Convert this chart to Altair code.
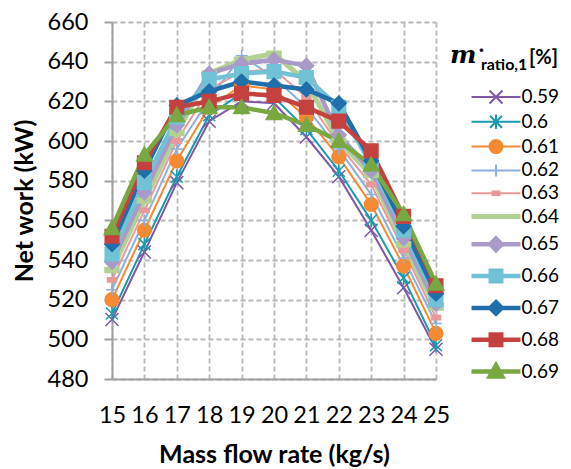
import altair as alt
import pandas as pd

# ---------------- data ----------------
flow = [15, 16, 17, 18, 19, 20, 21, 22, 23, 24, 25]
ratios = ["0.59", "0.6", "0.61", "0.62", "0.63", "0.64",
          "0.65", "0.66", "0.67", "0.68", "0.69"]

w059 = [510, 544, 579, 610, 620, 619, 602, 582, 555, 526, 495]
w060 = [513, 548, 582, 613, 624, 622, 606, 585, 560, 531, 497]
w061 = [520, 555, 590, 617, 628, 626, 612, 592, 568, 537, 503]
w062 = [525, 560, 596, 621, 643, 632, 617, 596, 573, 541, 508]
w063 = [530, 565, 600, 626, 635, 636, 622, 598, 578, 545, 511]
w064 = [535, 570, 604, 634, 641, 644, 630, 600, 583, 548, 516]
w065 = [539, 574, 608, 634, 639, 641, 638, 603, 585, 551, 518]
w066 = [543, 579, 612, 631, 634, 635, 632, 617, 588, 555, 520]
w067 = [548, 585, 618, 625, 630, 628, 626, 619, 590, 557, 523]
w068 = [552, 589, 617, 620, 624, 623, 617, 610, 595, 562, 527]
w069 = [556, 593, 613, 617, 617, 614, 608, 600, 588, 563, 528]
series_values = [w059, w060, w061, w062, w063, w064,
                 w065, w066, w067, w068, w069]

y_ticks = [480, 500, 520, 540, 560, 580, 600, 620, 640, 660]

# ---------------- styles ----------------
colors = ["#7E57A5", "#1A9BB0", "#F58A32", "#8EAFDA", "#E89A9A", "#B3D192",
          "#A99AC8", "#71C2D6", "#1E6FAA", "#C4413F", "#79A843"]
line_widths = [2, 2, 2, 2, 2, 5, 4.5, 4.5, 4.5, 4.5, 4.5]

U = 9.0  # px per path unit (symbol size 324 -> sqrt 18 -> scale 9)


def f(v):
    return f"{v / U:.3f}"


def p_x(h):
    return f"M{f(-h)},{f(-h)}L{f(h)},{f(h)}M{f(-h)},{f(h)}L{f(h)},{f(-h)}"


def p_star(h):
    return p_x(h) + f"M0,{f(-h * 1.2)}L0,{f(h * 1.2)}"


def p_circle(h):
    return (f"M{f(-h)},0A{f(h)},{f(h)} 0 1,0 {f(h)},0"
            f"A{f(h)},{f(h)} 0 1,0 {f(-h)},0Z")


def p_plus(h):
    return f"M{f(-h)},0L{f(h)},0M0,{f(-h)}L0,{f(h)}"


def p_rect(w, hh):
    return f"M{f(-w)},{f(-hh)}L{f(w)},{f(-hh)}L{f(w)},{f(hh)}L{f(-w)},{f(hh)}Z"


def p_diamond(h):
    return f"M0,{f(-h)}L{f(h)},0L0,{f(h)}L{f(-h)},0Z"


def p_square(h):
    return p_rect(h, h)


def p_triangle(h):
    return f"M0,{f(-h)}L{f(h)},{f(h * 0.8)}L{f(-h)},{f(h * 0.8)}Z"


def markers(shrink, for_legend=False):
    return [
        p_x(6.5),
        p_star(6.0),
        p_circle(7.5 - shrink[2]),
        p_plus(6.0),
        p_rect(4.5, 2.2) if not for_legend else p_rect(3.5, 1.8),
        p_rect(7.0, 2.5) if not for_legend else "",
        p_diamond(8.0 - shrink[6]),
        p_square(7.5 - shrink[7]),
        p_diamond(8.0 - shrink[8]),
        p_square(7.5 - shrink[9]),
        p_triangle(8.5 - shrink[10]),
    ]


chart_markers = markers([0.7] * 11)
half_line = 24.5
legend_paths = [f"M{f(-half_line)},0L{f(half_line)},0" + m
                for m in markers([w / 2 for w in line_widths], for_legend=True)]

marker_of = dict(zip(ratios, chart_markers))

rows = []
for i, (r, vals) in enumerate(zip(ratios, series_values)):
    for x, v in zip(flow, vals):
        rows.append({"flow": x, "ratio": r, "work": v, "k": i,
                     "marker": marker_of[r]})
df = pd.DataFrame(rows)

FONT = "Lato"

x_enc = alt.X("flow:Q", scale=alt.Scale(domain=[15, 25], nice=False),
              axis=alt.Axis(values=flow, title="Mass flow rate (kg/s)",
                            format="d", labelOverlap=False, labelFlush=False))
y_enc = alt.Y("work:Q", scale=alt.Scale(domain=[480, 660], nice=False),
              axis=alt.Axis(values=y_ticks, title="Net work (kW)",
                            labelFlush=False, labelOverlap=False))


def stroke_scale():
    return alt.Scale(domain=ratios, range=colors)


def sw_scale():
    return alt.Scale(type="ordinal", domain=ratios, range=line_widths)


lines = alt.Chart(df).mark_line().encode(
    x=x_enc, y=y_enc,
    stroke=alt.Stroke("ratio:N", scale=stroke_scale(), legend=None),
    strokeWidth=alt.StrokeWidth("ratio:N", scale=sw_scale(), legend=None),
    order=alt.Order("flow:Q"),
    detail="k:O",
)

points = alt.Chart(df).mark_point(opacity=1, size=324, strokeWidth=1.5).encode(
    x=x_enc, y=y_enc,
    stroke=alt.Stroke("ratio:N", scale=stroke_scale(), legend=None),
    fill=alt.Fill("ratio:N", scale=stroke_scale(), legend=None),
    shape=alt.Shape("marker:N", scale=None),
    order=alt.Order("k:Q"),
)


def leg():
    return alt.Legend(title=None, orient="none", legendX=372.5, legendY=65,
                      symbolSize=324, labelFont=FONT, labelFontSize=19,
                      labelColor="#000000", labelOffset=14, rowPadding=1.8,
                      padding=0, symbolOffset=0, labelLimit=200)


legend_layer = alt.Chart(df).mark_point(opacity=1).encode(
    x=x_enc, y=y_enc,
    stroke=alt.Stroke("ratio:N", scale=stroke_scale(), legend=leg()),
    fill=alt.Fill("ratio:N", scale=stroke_scale(), legend=leg()),
    shape=alt.Shape("ratio:N", scale=alt.Scale(domain=ratios, range=legend_paths),
                    legend=leg()),
    strokeWidth=alt.StrokeWidth("ratio:N", scale=sw_scale(), legend=leg()),
).transform_filter("false")

one = pd.DataFrame({"a": [0]})
t_m = alt.Chart(one).mark_text(align="left", baseline="alphabetic",
                               font="DejaVu Serif", fontStyle="italic",
                               fontWeight="bold", fontSize=25).encode(
    x=alt.value(338), y=alt.value(41), text=alt.value("m"))
t_dot = alt.Chart(one).mark_text(align="left", baseline="alphabetic",
                                 font=FONT, fontWeight="bold", fontSize=22).encode(
    x=alt.value(365), y=alt.value(44), text=alt.value("˙"))
t_sub = alt.Chart(one).mark_text(align="left", baseline="alphabetic",
                                 font=FONT, fontWeight="bold", fontSize=16).encode(
    x=alt.value(369), y=alt.value(48), text=alt.value("ratio,1"))
t_pct = alt.Chart(one).mark_text(align="left", baseline="alphabetic",
                                 font=FONT, fontWeight="bold", fontSize=20).encode(
    x=alt.value(417), y=alt.value(42), text=alt.value("[%]"))

chart = alt.layer(lines, points, legend_layer, t_m, t_dot, t_sub, t_pct).resolve_scale(
    stroke="independent", fill="independent", strokeWidth="independent",
    shape="independent",
).properties(
    width=324, height=357,
    padding={"left": 104, "top": 14, "right": 127, "bottom": 88},
    autosize=alt.AutoSizeParams(type="none"),
).configure_view(stroke=None).configure_axis(
    labelFont=FONT, labelFontSize=23.5, labelColor="#000000",
    titleFont=FONT, titleFontSize=25, titleFontWeight="bold", titleColor="#000000",
    grid=True, gridColor="#b8b8b8", gridDash=[5, 3], gridWidth=1.8,
    domainColor="#a0a0a0", domainWidth=2,
    tickColor="#a0a0a0", tickWidth=2,
).configure_axisX(
    ticks=False, labelPadding=24, titlePadding=16,
).configure_axisY(
    tickSize=8, labelPadding=16, titlePadding=10,
)

chart.save("out.html", embed_options={"renderer": "svg", "actions": False})
